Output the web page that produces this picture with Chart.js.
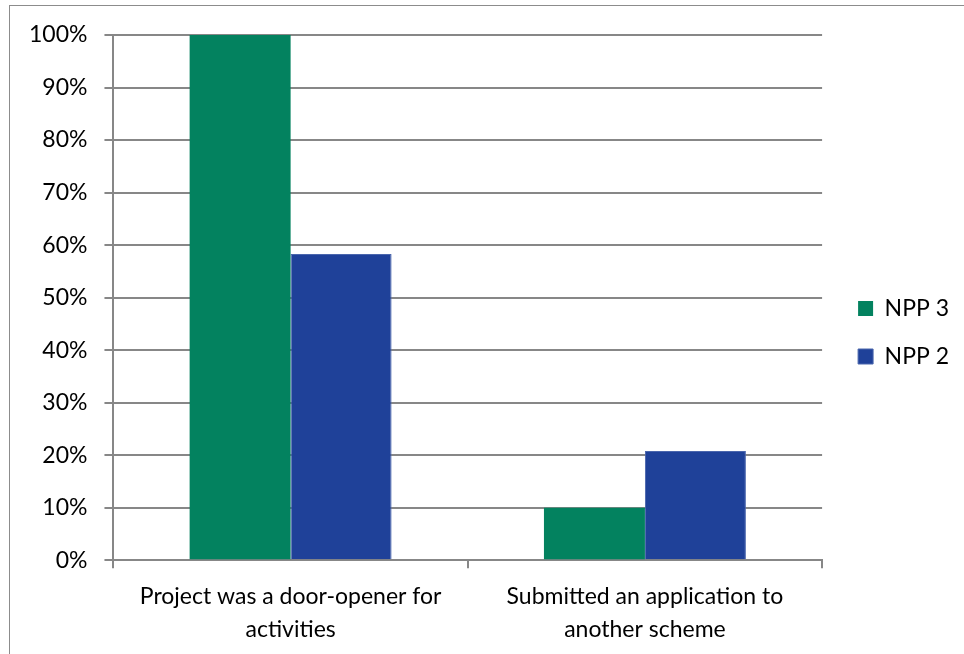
<!DOCTYPE html>
<html>
<head>
<meta charset="utf-8">
<script src="https://cdn.jsdelivr.net/npm/chart.js@4.4.0/dist/chart.umd.min.js"></script>
<style>
  html, body { margin: 0; padding: 0; background: #fff; overflow: hidden; }
  #wrap { position: relative; width: 964px; height: 654px; }
  #frame { position: absolute; left: 9px; top: 5px; width: 1000px; height: 700px; border: 1px solid #8c8c8c; box-sizing: border-box; }
</style>
</head>
<body>
<div id="wrap">
  <div id="frame"></div>
  <canvas id="barChart"></canvas>
</div>
<script>
/*Data*/
const categories = [
  ['Project was a door-opener for', 'activities'],
  ['Submitted an application to', 'another scheme']
];
const seriesNames = ['NPP 3', 'NPP 2'];
const npp3Values = [100, 10];
const npp2Values = [58.3, 20.8];
const yTicks = [0, 10, 20, 30, 40, 50, 60, 70, 80, 90, 100];

const gridColor = '#878787';
const fontFamily = "Lato, 'Open Sans', sans-serif";

/*nudge the legend block a little, like the original layout*/
const legendNudge = {
  id: 'legendNudge',
  afterLayout(chart) {
    const lg = chart.legend;
    if (!lg) return;
    lg.left += 11; lg.right += 11;
    lg.top -= 14; lg.bottom -= 14;
  }
};

const ctx = document.getElementById('barChart').getContext('2d');
const myChart = new Chart(ctx, {
  type: 'bar',
  data: {
    labels: categories,
    datasets: [{
      label: seriesNames[0],
      data: npp3Values,
      backgroundColor: '#03825F',
      borderWidth: 0
    }, {
      label: seriesNames[1],
      data: npp2Values,
      backgroundColor: '#1F4199',
      borderColor: '#4a66ad',
      borderWidth: 1
    }]
  },
  plugins: [legendNudge],
  options: {
    responsive: true,
    maintainAspectRatio: false,
    animation: false,
    devicePixelRatio: 1,
    datasets: {
      bar: { categoryPercentage: 0.57, barPercentage: 1.0 }
    },
    layout: { padding: { left: 12, top: 35, right: 16, bottom: -4 } },
    plugins: {
      tooltip: { enabled: false },
      legend: {
        position: 'right',
        align: 'center',
        labels: {
          boxWidth: 15,
          boxHeight: 15,
          padding: 25,
          color: '#000',
          font: { family: fontFamily, size: 23 }
        }
      }
    },
    scales: {
      x: {
        border: { color: gridColor, width: 2 },
        grid: { display: true, drawOnChartArea: false, drawTicks: true, tickLength: 8, color: gridColor, lineWidth: 2, offset: true },
        ticks: { color: '#000', padding: 12, maxRotation: 0, font: { family: fontFamily, size: 23, lineHeight: 1.43 } }
      },
      y: {
        min: 0,
        max: 100,
        afterBuildTicks: function (axis) {
          axis.ticks = yTicks.map(function (v) { return { value: v }; });
        },
        border: { color: gridColor, width: 2 },
        grid: { color: gridColor, lineWidth: 2, tickLength: 9 },
        ticks: {
          color: '#000',
          padding: 17,
          font: { family: fontFamily, size: 23 },
          callback: function (v) { return v + '%'; }
        }
      }
    }
  }
});
</script>
</body>
</html>
